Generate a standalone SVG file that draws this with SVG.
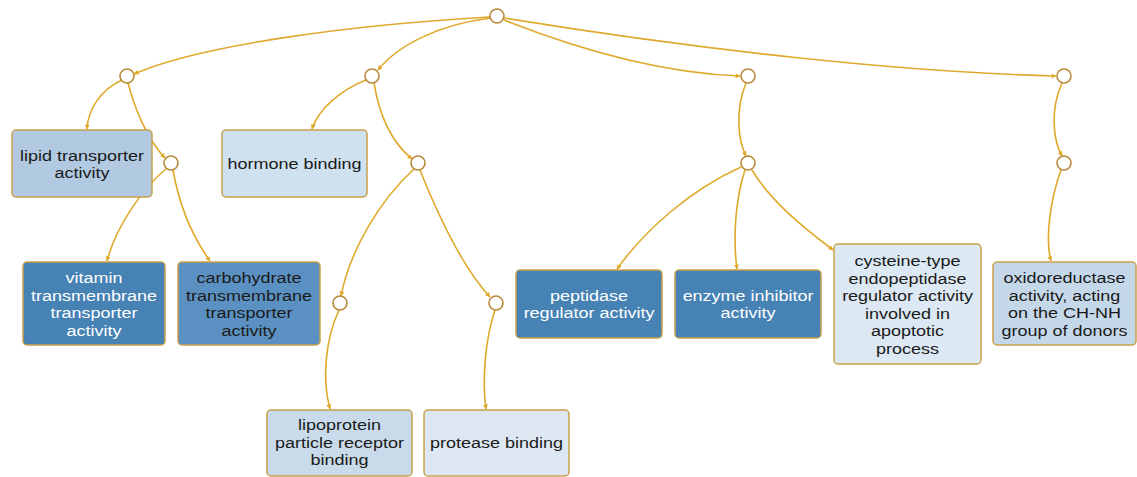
<svg xmlns="http://www.w3.org/2000/svg" width="1137" height="477" viewBox="0 0 1137 477">
<style>
.e{fill:none;stroke:#dfa92b;stroke-width:1.6;marker-end:url(#ah)}
.c{fill:#fff;stroke:#b8893a;stroke-width:1.6}
.b{stroke:#c9a04a;stroke-width:1.5}
text{font-family:"Liberation Sans",Arial,sans-serif;font-size:15.5px;text-anchor:middle;fill:#1a1a1a}
.w{fill:#fff}
</style>
<defs>
<marker id="ah" viewBox="0 0 10 10" refX="9" refY="5" markerWidth="5" markerHeight="5" orient="auto" markerUnits="userSpaceOnUse">
<path d="M0,0L10,5L0,10z" fill="#dfa92b"/>
</marker>
</defs>
<rect width="1137" height="477" fill="#fff"/>
<g id="edges">
<path class="e" d="M490,17 C350,25 200,45 134,74"/>
<path class="e" d="M491,18 C440,24 398,45 378,70"/>
<path class="e" d="M504,20 C580,50 660,73 740,76"/>
<path class="e" d="M504,18 C700,50 900,72 1056,76"/>
<path class="e" d="M122,80 C100,90 88,110 87,129"/>
<path class="e" d="M128,83 C135,110 148,140 165,158"/>
<path class="e" d="M167,168 C140,190 115,230 107,261"/>
<path class="e" d="M173,170 C180,210 195,240 210,261"/>
<path class="e" d="M366,80 C340,90 318,110 312,129"/>
<path class="e" d="M374,83 C380,120 395,145 412,159"/>
<path class="e" d="M414,169 C380,200 350,250 341,296"/>
<path class="e" d="M420,170 C440,220 465,270 490,297"/>
<path class="e" d="M339,310 C325,340 322,380 330,409"/>
<path class="e" d="M495,310 C485,340 482,380 486,409"/>
<path class="e" d="M746,83 C735,110 738,140 746,156"/>
<path class="e" d="M741,167 C690,190 645,230 617,269"/>
<path class="e" d="M745,170 C735,200 733,240 737,269"/>
<path class="e" d="M752,170 C770,200 800,225 833,250"/>
<path class="e" d="M1062,83 C1050,110 1053,140 1062,156"/>
<path class="e" d="M1061,170 C1050,200 1045,240 1051,261"/>
</g>
<g id="n-root"><circle class="c" cx="497" cy="16" r="7"/></g>
<g id="n-a"><circle class="c" cx="127" cy="76" r="7"/></g>
<g id="n-b"><circle class="c" cx="372" cy="76" r="7"/></g>
<g id="n-c"><circle class="c" cx="748" cy="76" r="7"/></g>
<g id="n-d"><circle class="c" cx="1064" cy="76" r="7"/></g>
<g id="n-a2"><circle class="c" cx="171" cy="163" r="7"/></g>
<g id="n-b2"><circle class="c" cx="418" cy="163" r="7"/></g>
<g id="n-c2"><circle class="c" cx="748" cy="163" r="7"/></g>
<g id="n-d2"><circle class="c" cx="1064" cy="163" r="7"/></g>
<g id="n-b3"><circle class="c" cx="340" cy="303" r="7"/></g>
<g id="n-b4"><circle class="c" cx="496" cy="303" r="7"/></g>
<g id="lipid">
<rect class="b" x="12" y="130" width="140" height="67" rx="4" fill="#b1c9e1"/>
<text transform="translate(82,160.5) scale(1.16,1)">lipid transporter</text>
<text transform="translate(82,178) scale(1.16,1)">activity</text>
</g>
<g id="hormone">
<rect class="b" x="222" y="130" width="145" height="67" rx="4" fill="#cfe0ee"/>
<text transform="translate(294.5,169) scale(1.16,1)">hormone binding</text>
</g>
<g id="vitamin">
<rect class="b" x="23" y="262" width="142" height="83" rx="4" fill="#4682b4"/>
<text class="w" transform="translate(94,283) scale(1.16,1)">vitamin</text>
<text class="w" transform="translate(94,300.5) scale(1.16,1)">transmembrane</text>
<text class="w" transform="translate(94,318) scale(1.16,1)">transporter</text>
<text class="w" transform="translate(94,335.5) scale(1.16,1)">activity</text>
</g>
<g id="carbohydrate">
<rect class="b" x="178" y="262" width="142" height="83" rx="4" fill="#5b91c2"/>
<text transform="translate(249,283) scale(1.16,1)">carbohydrate</text>
<text transform="translate(249,300.5) scale(1.16,1)">transmembrane</text>
<text transform="translate(249,318) scale(1.16,1)">transporter</text>
<text transform="translate(249,335.5) scale(1.16,1)">activity</text>
</g>
<g id="peptidase">
<rect class="b" x="516" y="270" width="146" height="68" rx="4" fill="#4682b4"/>
<text class="w" transform="translate(589,300.5) scale(1.16,1)">peptidase</text>
<text class="w" transform="translate(589,318) scale(1.16,1)">regulator activity</text>
</g>
<g id="enzyme">
<rect class="b" x="675" y="270" width="146" height="68" rx="4" fill="#4682b4"/>
<text class="w" transform="translate(748,300.5) scale(1.16,1)">enzyme inhibitor</text>
<text class="w" transform="translate(748,318) scale(1.16,1)">activity</text>
</g>
<g id="cysteine">
<rect class="b" x="834" y="244" width="147" height="120" rx="4" fill="#dce8f3"/>
<text transform="translate(907.5,266) scale(1.16,1)">cysteine-type</text>
<text transform="translate(907.5,283.5) scale(1.16,1)">endopeptidase</text>
<text transform="translate(907.5,301) scale(1.16,1)">regulator activity</text>
<text transform="translate(907.5,318.5) scale(1.16,1)">involved in</text>
<text transform="translate(907.5,336) scale(1.16,1)">apoptotic</text>
<text transform="translate(907.5,353.5) scale(1.16,1)">process</text>
</g>
<g id="oxido">
<rect class="b" x="993" y="262" width="143" height="83" rx="4" fill="#c5d8ea"/>
<text transform="translate(1064.5,283) scale(1.16,1)">oxidoreductase</text>
<text transform="translate(1064.5,300.5) scale(1.16,1)">activity, acting</text>
<text transform="translate(1064.5,318) scale(1.16,1)">on the CH-NH</text>
<text transform="translate(1064.5,335.5) scale(1.16,1)">group of donors</text>
</g>
<g id="lipoprotein">
<rect class="b" x="267" y="410" width="145" height="66" rx="4" fill="#c9dbeb"/>
<text transform="translate(339.5,430) scale(1.16,1)">lipoprotein</text>
<text transform="translate(339.5,447.5) scale(1.16,1)">particle receptor</text>
<text transform="translate(339.5,465) scale(1.16,1)">binding</text>
</g>
<g id="protease">
<rect class="b" x="424" y="410" width="145" height="66" rx="4" fill="#dde8f3"/>
<text transform="translate(496.5,448) scale(1.16,1)">protease binding</text>
</g>
</svg>
